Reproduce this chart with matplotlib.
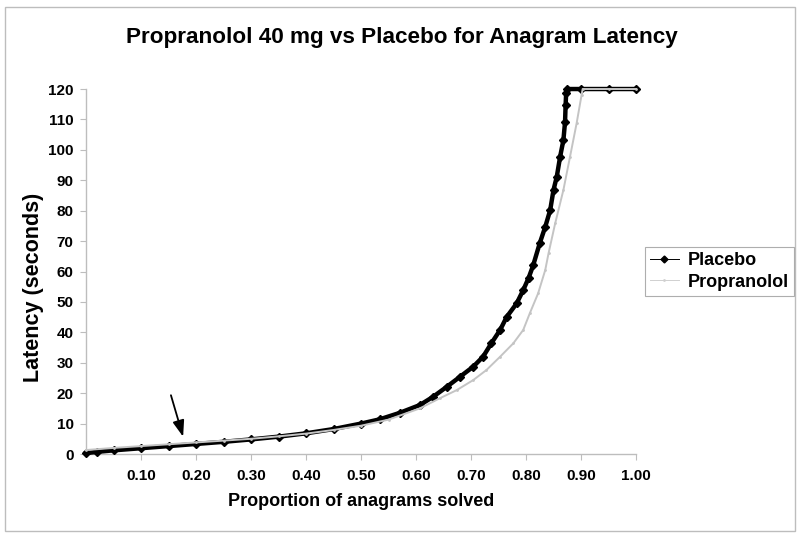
import matplotlib
matplotlib.use("Agg")
import matplotlib.pyplot as plt
from matplotlib.patches import Rectangle
from matplotlib.lines import Line2D

plt.rcParams['font.family'] = ['Liberation Sans', 'DejaVu Sans']
plt.rcParams['font.weight'] = 'bold'

# values
placebo_x = [0.00, 0.02, 0.05, 0.10, 0.15, 0.20, 0.25, 0.30, 0.35, 0.40, 0.45, 0.50,
             0.534, 0.57, 0.607, 0.631, 0.656, 0.680, 0.704, 0.722, 0.737, 0.753,
             0.765, 0.783, 0.795, 0.805, 0.813, 0.825, 0.835, 0.844, 0.850, 0.856,
             0.862, 0.868, 0.871, 0.872, 0.873, 0.875, 0.90, 0.95, 1.00]
placebo_y = [0.3, 0.7, 1.2, 1.9, 2.6, 3.3, 4.0, 4.8, 5.7, 6.8, 8.2, 10.0,
             11.4, 13.5, 16.1, 18.8, 22.1, 25.4, 28.7, 32.0, 36.4, 40.8,
             45.1, 49.5, 53.9, 58.0, 62.0, 69.3, 74.7, 80.2, 86.8, 91.2,
             97.7, 103.2, 109.2, 114.7, 118.6, 120, 120, 120, 120]

prop_x = [0.00, 0.05, 0.10, 0.15, 0.20, 0.25, 0.30, 0.35, 0.40, 0.45, 0.50, 0.55,
          0.607, 0.643, 0.674, 0.704, 0.728, 0.753, 0.777, 0.795, 0.807, 0.822,
          0.835, 0.841, 0.853, 0.868, 0.880, 0.892, 0.901, 0.903, 0.95, 1.00]
prop_y = [1.3, 2.0, 2.6, 3.2, 3.8, 4.4, 5.0, 5.8, 6.7, 7.9, 9.3, 11.3,
          15.0, 18.3, 21.0, 24.3, 27.6, 32.0, 36.4, 40.8, 46.3, 52.8,
          60.5, 66.0, 75.8, 86.8, 97.7, 108.7, 118.0, 120, 120, 120]

x_ticks = [0.10, 0.20, 0.30, 0.40, 0.50, 0.60, 0.70, 0.80, 0.90, 1.00]
y_ticks = list(range(0, 121, 10))

arrow_tail = (0.153, 20.2)
arrow_head = (0.178, 4.8)


def plot_latency():
    fig = plt.figure(figsize=(8, 5.35), dpi=100)
    ax = fig.add_axes([0.1075, 0.1514, 0.6875, 0.6822])

    # dense black band of diamonds, grey band drawn on top of it
    ax.plot(placebo_x, placebo_y, color='black', linewidth=3.2, marker='D',
            markersize=4, zorder=3, clip_on=False)
    ax.plot(prop_x, prop_y, color='#c4c4c4', linewidth=1.4, marker='.',
            markersize=2, zorder=4, clip_on=False)

    ax.annotate('', xy=arrow_head, xytext=arrow_tail,
                arrowprops=dict(arrowstyle='-|>,head_length=0.7,head_width=0.25',
                                color='black', lw=1.3, mutation_scale=14))

    ax.set_xlim(0, 1.0)
    ax.set_ylim(0, 120)
    ax.set_xticks(x_ticks)
    ax.set_xticklabels([f"{v:.2f}" for v in x_ticks])
    ax.set_yticks(y_ticks)

    for s in ['top', 'right']:
        ax.spines[s].set_visible(False)
    for s in ['left', 'bottom']:
        ax.spines[s].set_color('#bdbdbd')
        ax.spines[s].set_linewidth(1.0)
    ax.tick_params(axis='x', length=4, color='#bdbdbd', pad=7, labelsize=11)
    ax.tick_params(axis='y', length=4, color='#bdbdbd', pad=5, labelsize=11)

    ax.set_xlabel('Proportion of anagrams solved', fontsize=13, fontweight='bold', labelpad=7)
    ax.set_ylabel('Latency (seconds)', fontsize=15.5, fontweight='bold')
    ax.yaxis.set_label_coords(-0.076, 0.457)
    fig.text(0.502, 0.929, 'Propranolol 40 mg vs Placebo for Anagram Latency',
             ha='center', va='center', fontsize=16.2, fontweight='bold')

    handles = [Line2D([], [], color='black', linewidth=0.7, marker='D', markersize=3.5),
               Line2D([], [], color='#d0d0d0', linewidth=0.7, marker='.', markersize=2)]
    leg = fig.legend(handles, ['Placebo', 'Propranolol'], loc='center',
                     bbox_to_anchor=(0.8994, 0.4925), fontsize=13,
                     frameon=True, fancybox=False, edgecolor='#9a9a9a',
                     handlelength=1.6, borderpad=0.3, labelspacing=0.25,
                     handletextpad=0.5)
    leg.get_frame().set_linewidth(0.8)

    fig.patches.append(Rectangle((5 / 800, 4 / 535), 790 / 800, 524 / 535,
                                 transform=fig.transFigure, fill=False,
                                 edgecolor='#bdbdbd', linewidth=1.0))

    fig.savefig('out.png', dpi=100)


if __name__ == "__main__":
    plot_latency()
